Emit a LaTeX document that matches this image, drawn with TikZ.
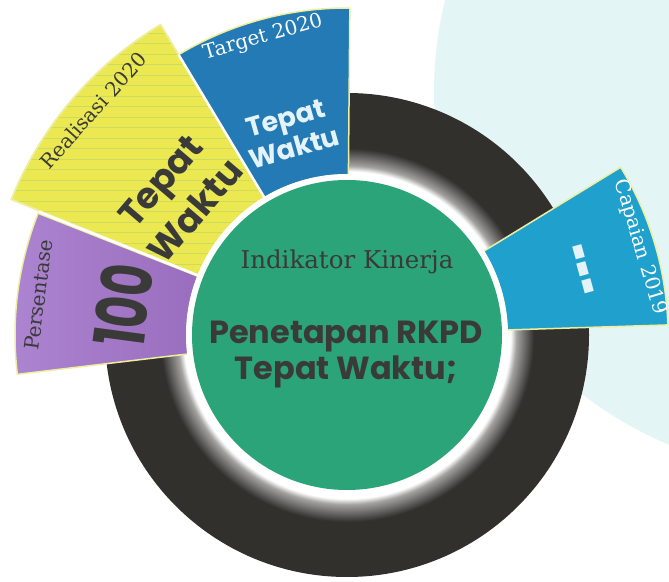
\documentclass[tikz,border=0pt]{standalone}
\usepackage{fontspec}
\usetikzlibrary{calc}
\newfontfamily\serifl{DejaVu Serif}
\newfontfamily\boldr{Poppins}
\definecolor{bgcyan}{RGB}{228,245,246}
\definecolor{ringdark}{RGB}{50,48,45}
\definecolor{greenc}{RGB}{42,164,120}
\definecolor{purpleA}{RGB}{172,132,208}
\definecolor{purpleB}{RGB}{140,92,176}
\definecolor{yellowc}{RGB}{236,232,82}
\definecolor{ylines}{RGB}{190,215,100}
\definecolor{bluec}{RGB}{36,122,180}
\definecolor{cyanc}{RGB}{32,160,205}
\definecolor{edgec}{RGB}{238,238,160}
\definecolor{inkc}{RGB}{58,58,56}
\definecolor{lighttext}{RGB}{228,242,250}
\pgfdeclareradialshading{ringglow}{\pgfpoint{0bp}{0bp}}{%
  color(0bp)=(white); color(16.9bp)=(white); color(17.5bp)=(ringdark!45!white);
  color(19.3bp)=(ringdark); color(50bp)=(ringdark)}
\newcommand\sectorpath[3]{(C) ++(#1:160) arc[start angle=#1,end angle=#2,radius=160] -- ++(#2:{#3-160}) arc[start angle=#2,end angle=#1,radius=#3] -- cycle}
\tikzset{
  seg/.style={draw=edgec, line width=1.5pt},
  sep/.style={draw=white, line width=2.5pt},
  lab/.style={font=\serifl\fontsize{20}{24}\selectfont, inner sep=0pt},
  bigtxt/.style={font=\boldr\bfseries, inner sep=0pt, align=center},
}
\begin{document}
\begin{tikzpicture}[x=1pt,y=1pt]
\useasboundingbox (0,0) rectangle (669,581);
\clip (0,0) rectangle (669,581);
\fill[white] (0,0) rectangle (669,581);
% background disc
\fill[bgcyan] (816,489) circle (382);
\coordinate (C) at (347,246);
% dark ring with glow
\shade[shading=ringglow] (C) circle (242);
% segments
\path[seg, left color=purpleA, right color=purpleB] \sectorpath{158.5}{186.8}{332};
\path[seg, fill=yellowc] \sectorpath{121}{158}{362};
\begin{scope}
  \clip \sectorpath{121}{158}{362};
  \foreach \yy in {2,12.5,...,581} \draw[ylines, line width=0.6pt, opacity=0.7] (0,\yy) -- (669,\yy);
\end{scope}
\path[seg] \sectorpath{121}{158}{362};
\path[seg, fill=bluec] \sectorpath{89.5}{121}{327};
\path[seg, fill=cyanc] \sectorpath{1.8}{31.5}{321};
\draw[sep] ($(C)+(121:160)$) -- ($(C)+(121:327)$);
\draw[sep] ($(C)+(158.2:160)$) -- ($(C)+(158.2:332)$);
% core
\fill[white] (C) circle (161);
\fill[greenc] (C) circle (155);
% labels
\node[lab, text=inkc, rotate=82.6] (persentase) at ($(C)+(172.6:311)$) {Persentase};
\node[bigtxt, text=inkc, font=\boldr\bfseries\fontsize{70}{70}\selectfont, rotate=82.4, xscale=0.7] (seratus) at ($(C)+(172.4:226)$) {100};
\node[lab, text=inkc, rotate=48] (realisasi) at ($(C)+(138.5:339)$) {Realisasi 2020};
\node[bigtxt, text=inkc, font=\boldr\bfseries\fontsize{36}{46}\selectfont, rotate=49.5] (tepatA) at ($(C)+(140.6:219)$) {Tepat\\Waktu};
\node[lab, text=white, rotate=15.8] (target) at ($(C)+(105.8:309)$) {Target 2020};
\node[bigtxt, text=lighttext, font=\boldr\bfseries\fontsize{27}{31}\selectfont, rotate=15.8] (tepatB) at ($(C)+(105.8:210)$) {Tepat\\Waktu};
\node[lab, text=white, rotate=-73.3] (capaian) at ($(C)+(16.7:306)$) {Capaian 2019};
\node[bigtxt, text=lighttext, font=\boldr\bfseries\fontsize{30}{30}\selectfont, rotate=-74.6, yscale=2.2] (dashes) at ($(C)+(15.4:236)$) {-{}-{}-};
\node[font=\serifl\fontsize{24.5}{28}\selectfont, text=inkc, inner sep=0pt] (indikator) at (347,319) {Indikator Kinerja};
\node[bigtxt, text=inkc, font=\boldr\bfseries\fontsize{32}{36}\selectfont] (penetapan) at (346,226) {Penetapan RKPD\\Tepat Waktu;};
\end{tikzpicture}
\end{document}
